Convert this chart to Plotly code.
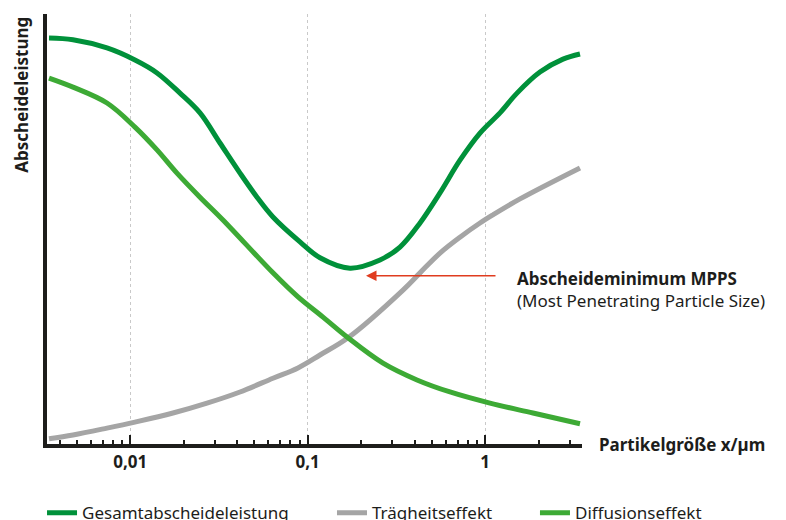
import plotly.graph_objects as go

# Particle size in µm
x_gesamt = [0.003488, 0.004762, 0.007401, 0.01064, 0.01416, 0.01908, 0.02473, 0.03205,
            0.04156, 0.05182, 0.06373, 0.09050, 0.1173, 0.1731, 0.2555, 0.3311, 0.4293,
            0.5563, 0.7211, 0.9347, 1.2118, 1.511, 2.035, 2.744, 3.421]
y_gesamt = [94.4, 94.0, 92.1, 89.3, 86.3, 81.6, 77.0, 70.0, 63.0, 57.4, 52.8, 47.0, 43.3,
            40.9, 42.8, 45.8, 51.4, 58.4, 66.0, 72.3, 77.0, 81.6, 86.5, 89.5, 90.7]

x_diff = [0.003488, 0.004762, 0.007401, 0.01064, 0.01416, 0.01835, 0.02473, 0.03332,
          0.06373, 0.08819, 0.1220, 0.1687, 0.2656, 0.4129, 0.6334, 1.064,
          1.859, 3.421]
y_diff = [85.1, 83.0, 79.3, 73.7, 68.4, 63.0, 57.4, 52.1, 39.8, 34.2, 29.5, 24.7,
          18.8, 14.9, 12.1, 9.5, 7.2, 4.7]

x_traeg = [0.003488, 0.004762, 0.007401, 0.01064, 0.01742, 0.02708, 0.04156, 0.06373,
           0.08819, 0.1173, 0.1687, 0.3443, 0.4293, 0.5563, 0.7211, 0.9347, 1.106,
           1.571, 3.421]
y_traeg = [1.2, 2.1, 3.7, 5.1, 7.2, 9.5, 12.1, 15.3, 17.7, 20.7, 24.7, 35.8, 39.8, 44.4,
           48.1, 51.4, 53.3, 57.0, 64.2]

tick_vals = [0.01, 0.1, 1]
tick_text = ["0,01", "0,1", "1"]

GREEN_DARK = "#00913a"
GREEN_LIGHT = "#3daa35"
GREY = "#a5a5a5"
INK = "#1d1d1b"
FONT = "Noto Sans"

fig = go.Figure()
fig.add_trace(go.Scatter(x=x_gesamt, y=y_gesamt, mode="lines", name="Gesamtabscheideleistung",
                         legend="legend",
                         line=dict(color=GREEN_DARK, width=5, shape="spline", smoothing=1.0)))
fig.add_trace(go.Scatter(x=x_traeg, y=y_traeg, mode="lines", name="Trägheitseffekt",
                         legend="legend2",
                         line=dict(color=GREY, width=5, shape="spline", smoothing=1.0)))
fig.add_trace(go.Scatter(x=x_diff, y=y_diff, mode="lines", name="Diffusionseffekt",
                         legend="legend3",
                         line=dict(color=GREEN_LIGHT, width=5, shape="spline", smoothing=1.0)))

leg_common = dict(orientation="h", xanchor="left", y=-0.119, yanchor="top",
                  font=dict(size=17, color=INK), itemwidth=30,
                  bgcolor="rgba(0,0,0,0)")

fig.update_layout(
    width=786, height=520,
    margin=dict(l=39, r=212, t=6, b=84, autoexpand=False),
    paper_bgcolor="white", plot_bgcolor="white",
    font=dict(family=FONT, color=INK, size=17),
    showlegend=True,
    legend=dict(x=-0.0093, **leg_common),
    legend2=dict(x=0.5327, **leg_common),
    legend3=dict(x=0.9121, **leg_common),
    xaxis=dict(type="log", range=[-2.4687, 0.5454],
               tickvals=tick_vals, ticktext=tick_text,
               ticks="inside", ticklen=9, tickwidth=2, tickcolor=INK,
               tickfont=dict(size=17, weight="bold", color=INK),
               showline=True, linewidth=4, linecolor=INK,
               showgrid=True, gridcolor="#c9c9c9", griddash="dot", gridwidth=1,
               minor=dict(ticks="inside", ticklen=4, tickwidth=1.5, tickcolor=INK,
                          dtick="D1", showgrid=False),
               zeroline=False, fixedrange=True),
    yaxis=dict(range=[0, 100], showticklabels=False, ticks="", showgrid=False,
               showline=True, linewidth=4, linecolor=INK, zeroline=False, fixedrange=True),
)

# axis titles
fig.add_annotation(text="<b>Abscheideleistung</b>", xref="paper", yref="paper",
                   x=-0.047, y=0.998, xanchor="center", yanchor="top", textangle=-90,
                   showarrow=False, font=dict(size=17, color=INK))
fig.add_annotation(text="<b>Partikelgröße x/µm</b>", xref="paper", yref="paper",
                   x=1.028, y=-0.002, xanchor="left", yanchor="middle",
                   showarrow=False, font=dict(size=17, color=INK))

# MPPS arrow and label
fig.add_annotation(x=-0.6715, y=39.1, xref="x", yref="y", text="", showarrow=True,
                   ax=131, ay=0, arrowhead=2, arrowsize=1.4, arrowwidth=1.5,
                   arrowcolor="#e03c1f")
fig.add_annotation(text="<b>Abscheideminimum MPPS</b>", xref="paper", yref="paper",
                   x=0.8748, y=(444 - 278) / 430, xanchor="left", yanchor="middle",
                   showarrow=False, font=dict(size=17, color=INK))
fig.add_annotation(text="(Most Penetrating Particle Size)", xref="paper", yref="paper",
                   x=0.8748, y=(444 - 300) / 430, xanchor="left", yanchor="middle",
                   showarrow=False, font=dict(size=17, color=INK))

fig.write_html("out.html")
